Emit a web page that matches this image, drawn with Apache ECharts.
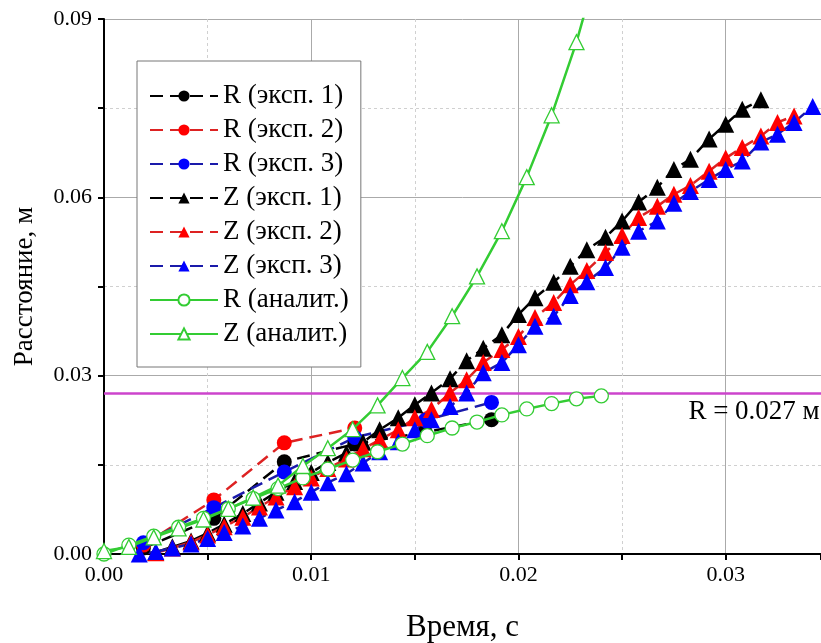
<!DOCTYPE html>
<html><head><meta charset="utf-8">
<script src="https://cdn.jsdelivr.net/npm/echarts@6/dist/echarts.min.js"></script>
<style>html,body{margin:0;padding:0;background:#fff}#c{width:821px;height:643px}</style>
</head><body><div id="c"></div>
<script>
// ---- data ----
const tZ = [0.0017,0.0025,0.0033,0.0042,0.0050,0.0058,0.0067,0.0075,0.0083,0.0092,0.0100,0.0108,0.0117,0.0125,0.0133,0.0142,0.0150,0.0158,0.0167,0.0175,0.0183,0.0192,0.0200,0.0208,0.0217,0.0225,0.0233,0.0242,0.0250,0.0258,0.0267,0.0275,0.0283,0.0292,0.0300,0.0308,0.0317,0.0325,0.0333,0.0342];
const Z1 = [null,0.0003,0.0012,0.0022,0.0035,0.0050,0.0068,0.0086,0.0104,0.0122,0.0137,0.0154,0.0170,0.0188,0.0209,0.0229,0.0251,0.0271,0.0295,0.0325,0.0346,0.0369,0.0403,0.0431,0.0457,0.0484,0.0512,0.0533,0.0560,0.0592,0.0617,0.0647,0.0664,0.0698,0.0723,0.0748,0.0764,null,null,null];
const Z2 = [null,0.0002,0.0010,0.0020,0.0032,0.0046,0.0062,0.0079,0.0096,0.0113,0.0128,0.0144,0.0160,0.0177,0.0192,0.0209,0.0229,0.0243,0.0271,0.0293,0.0322,0.0344,0.0366,0.0398,0.0423,0.0453,0.0477,0.0507,0.0536,0.0566,0.0585,0.0605,0.0620,0.0644,0.0666,0.0684,0.0703,0.0726,0.0737,null];
const Z3 = [0.0000,0.0004,0.0010,0.0017,0.0026,0.0036,0.0047,0.0060,0.0074,0.0088,0.0104,0.0120,0.0135,0.0153,0.0172,0.0189,0.0209,0.0226,0.0248,0.0271,0.0305,0.0322,0.0352,0.0383,0.0400,0.0435,0.0458,0.0482,0.0516,0.0543,0.0560,0.0590,0.0610,0.0630,0.0647,0.0661,0.0693,0.0706,0.0726,0.0753];
const tR = [0.0019,0.0053,0.0087,0.0121,0.0155,0.0187];
const R1 = [0.0010,0.0060,0.0155,0.0185,0.0205,0.0226];
const R2 = [0.0015,0.0091,0.0187,0.0212,null,null];
const R3 = [0.0019,0.0078,0.0138,0.0196,0.0225,0.0255];
const tA = [0,0.0012,0.0024,0.0036,0.0048,0.0060,0.0072,0.0084,0.0096,0.0108,0.0120,0.0132,0.0144,0.0156,0.0168,0.0180,0.0192,0.0204,0.0216,0.0228,0.0240];
const RA = [0.0000,0.0015,0.0030,0.0045,0.0060,0.0076,0.0093,0.0110,0.0128,0.0143,0.0158,0.0172,0.0185,0.0199,0.0212,0.0222,0.0234,0.0244,0.0253,0.0261,0.0266];
const ZA = [0.0005,0.0012,0.0028,0.0043,0.0058,0.0076,0.0095,0.0115,0.0148,0.0178,0.0210,0.0250,0.0296,0.0340,0.0400,0.0467,0.0543,0.0634,0.0738,0.0861,0.1010];
const R_LIMIT = 0.027;
const R_LIMIT_LABEL = 'R = 0.027 м';
const names = ['R (эксп. 1)','R (эксп. 2)','R (эксп. 3)','Z (эксп. 1)','Z (эксп. 2)','Z (эксп. 3)','R (аналит.)','Z (аналит.)'];
const xTicks = {min:0, max:0.0346, interval:0.01};
const yTicks = {min:0, max:0.09, interval:0.03};

// ---- chart ----
const FONT = 'Liberation Serif';
const zip = (t, v) => t.map((x, i) => [x, v[i]]);
const GREEN = '#33cc33';
function expSeries(name, t, v, color, lineColor, symbol, size) {
  return {
    name, type:'line', data: zip(t, v), symbol, symbolSize: size,
    connectNulls:false,
    itemStyle:{color, borderWidth:0},
    lineStyle:{color: lineColor, width:2.5, type:[13,7]},
    z: 3
  };
}
function anaSeries(name, t, v, symbol, size) {
  return {
    name, type:'line', data: zip(t, v), symbol, symbolSize:size,
    itemStyle:{color:'#ffffff', borderColor:GREEN, borderWidth:1.3},
    lineStyle:{color:GREEN, width:2.5},
    z: 4
  };
}
const chart = echarts.init(document.getElementById('c'), null, {renderer:'canvas'});
chart.setOption({
  animation:false,
  backgroundColor:'#ffffff',
  textStyle:{fontFamily:FONT},
  grid:{left:104, top:19, right:0, bottom:89, containLabel:false, outerBoundsMode:'none'},
  legend:{
    data:names, orient:'vertical', left:137, top:61,
    backgroundColor:'#ffffff', borderColor:'#777', borderWidth:1,
    padding:[18,12,16,12], itemGap:0, itemWidth:68, itemHeight:14,
    textStyle:{fontFamily:FONT, fontSize:27, color:'#000', lineHeight:34},
    selectedMode:false
  },
  xAxis:{
    type:'value', min:xTicks.min, max:xTicks.max, interval:xTicks.interval,
    name:'Время, с', nameLocation:'middle', nameGap:58,
    nameTextStyle:{fontFamily:FONT, fontSize:31, color:'#000'},
    axisLine:{lineStyle:{color:'#000', width:2}},
    axisTick:{show:true, length:6, lineStyle:{color:'#000', width:2}},
    minorTick:{show:true, splitNumber:2, length:6, lineStyle:{color:'#000', width:2}},
    axisLabel:{formatter:v=>v.toFixed(2), fontFamily:FONT, fontSize:22, color:'#000', margin:10, showMaxLabel:false},
    splitLine:{show:true, lineStyle:{color:'#aaaaaa', width:1}},
    minorSplitLine:{show:true, lineStyle:{color:'#d0d0d0', width:1, type:[3,3]}}
  },
  yAxis:{
    type:'value', min:yTicks.min, max:yTicks.max, interval:yTicks.interval,
    name:'Расстояние, м', nameLocation:'middle', nameGap:66,
    nameTextStyle:{fontFamily:FONT, fontSize:27, color:'#000'},
    axisLine:{show:true, lineStyle:{color:'#000', width:2}},
    axisTick:{show:true, length:6, lineStyle:{color:'#000', width:2}},
    minorTick:{show:true, splitNumber:2, length:6, lineStyle:{color:'#000', width:2}},
    axisLabel:{formatter:v=>v.toFixed(2), fontFamily:FONT, fontSize:22, color:'#000', margin:12},
    splitLine:{show:true, lineStyle:{color:'#aaaaaa', width:1}},
    minorSplitLine:{show:true, lineStyle:{color:'#d0d0d0', width:1, type:[3,3]}}
  },
  series:[
    {
      name:'limit', type:'line', silent:true, symbol:'none', z:2,
      data: zip([xTicks.min, xTicks.max], [R_LIMIT, R_LIMIT]),
      lineStyle:{color:'#cc44cc', width:2.5}
    },
    expSeries(names[0], tR, R1, '#000000', '#000000', 'circle', 15),
    expSeries(names[1], tR, R2, '#ff0000', '#dd2222', 'circle', 15),
    expSeries(names[2], tR, R3, '#0000ff', '#1a1aaa', 'circle', 15),
    expSeries(names[3], tZ, Z1, '#000000', '#000000', 'triangle', 17),
    expSeries(names[4], tZ, Z2, '#ff0000', '#dd2222', 'triangle', 17),
    expSeries(names[5], tZ, Z3, '#0000ff', '#1a1aaa', 'triangle', 17),
    anaSeries(names[6], tA, RA, 'circle', 14),
    anaSeries(names[7], tA, ZA, 'triangle', 15)
  ]
});
// label of the R limit line, placed through the chart's own scales
const p = chart.convertToPixel({gridIndex:0}, [0.0282, R_LIMIT]);
chart.setOption({
  graphic:[{
    type:'text', left:p[0], top:p[1] + 5, silent:true,
    style:{text:R_LIMIT_LABEL, fontFamily:FONT, fontSize:27, fill:'#000'}
  }]
});
</script></body></html>
